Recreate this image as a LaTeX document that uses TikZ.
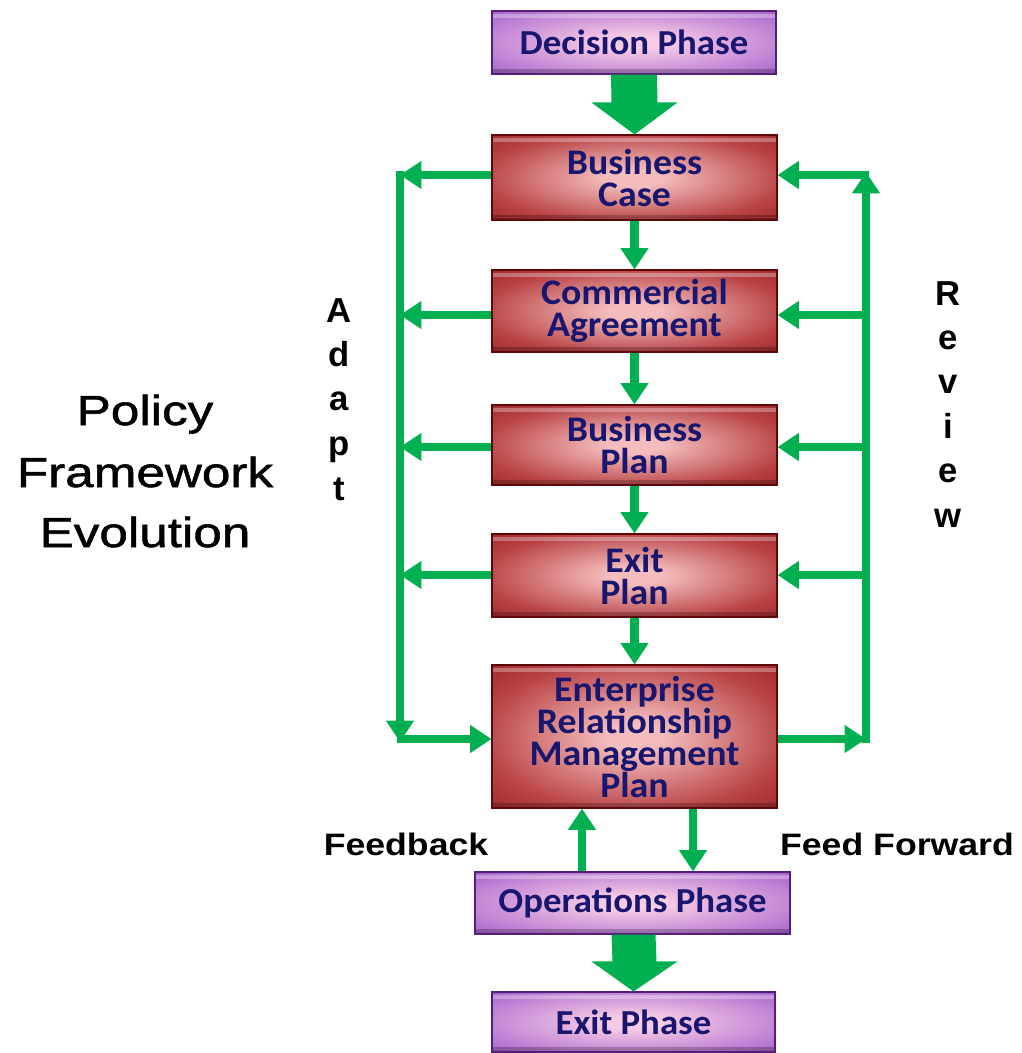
\documentclass[tikz,border=0pt]{standalone}
\usepackage{fontspec}
\usetikzlibrary{arrows.meta,calc}
\newfontfamily\boxfont[FakeStretch=1.05]{Carlito}
\newfontfamily\titlefont[FakeStretch=1.22,FakeBold=1.3]{Liberation Sans}
\newfontfamily\labfont[FakeStretch=1.15]{Liberation Sans}
\newfontfamily\letfont{Liberation Sans}
\definecolor{grn}{RGB}{0,176,80}
\definecolor{navy}{RGB}{24,22,110}
\definecolor{redin}{RGB}{244,188,188}
\definecolor{redmid}{RGB}{184,66,68}
\definecolor{redout}{RGB}{132,16,20}
\definecolor{redline}{RGB}{95,8,10}
\definecolor{purin}{RGB}{248,204,230}
\definecolor{purmid}{RGB}{190,128,212}
\definecolor{purout}{RGB}{132,62,184}
\definecolor{purline}{RGB}{85,30,125}
\pgfdeclareradialshading{redglow}{\pgfpoint{0bp}{0bp}}{color(0bp)=(redin); color(5bp)=(redin); color(27bp)=(redmid); color(46bp)=(redout); color(50bp)=(redout)}
\pgfdeclareradialshading{purglow}{\pgfpoint{0bp}{0bp}}{color(0bp)=(purin); color(5bp)=(purin); color(27bp)=(purmid); color(46bp)=(purout); color(50bp)=(purout)}
\tikzset{
  wh/.style 2 args={minimum width=#1*0.75pt, minimum height=#2*0.75pt},
  bevel/.style={path picture={
    \fill[white,opacity=0.3] ([yshift=-2pt]path picture bounding box.north west) rectangle ([yshift=-5pt]path picture bounding box.north east);
    \fill[black,opacity=0.22] (path picture bounding box.south west) rectangle ([yshift=4pt]path picture bounding box.south east);
  }},
  basebox/.style={rectangle, inner sep=0pt, align=center, text=navy, line width=0.8pt, bevel},
  redbox/.style={basebox, draw=redline, shading=redglow,
    font=\boxfont\bfseries\fontsize{27}{24}\selectfont},
  purbox/.style={basebox, draw=purline, shading=purglow,
    font=\boxfont\bfseries\fontsize{26.3}{24}\selectfont},
  thin/.style={draw=grn, line width=6.5pt, -{Triangle[width=20pt,length=16pt]}},
  big/.style={fill=grn},
  side/.style={anchor=base, font=\letfont\bfseries\fontsize{26}{26}\selectfont},
  lab/.style={anchor=base, font=\labfont\bfseries\fontsize{23.25}{24}\selectfont},
  ttl/.style={anchor=base, font=\titlefont\fontsize{31.5}{32}\selectfont}
}
\begin{document}
\begin{tikzpicture}[x=0.75pt,y=-0.75pt]
\fill[white] (0,0) rectangle (1021,1053);
\useasboundingbox (0,0) rectangle (1021,1053);

% boxes
\node[purbox, wh={284}{63}] (dec) at (634,42.5) {Decision Phase};
\node[redbox, wh={285}{85}] (bc) at (634.5,177.5) {Business\\Case};
\node[redbox, wh={285}{82}] (ca) at (634.5,311) {Commercial\\Agreement};
\node[redbox, wh={285}{80}] (bp) at (634.5,445) {Business\\Plan};
\node[redbox, wh={285}{83}] (ep) at (634.5,575.5) {Exit\\Plan};
\node[redbox, wh={285}{143}] (erm) at (634.5,736.5) {Enterprise\\Relationship\\Management\\Plan};
\node[purbox, wh={315}{62}] (ops) at (632.5,903) {Operations Phase};
\node[purbox, wh={283}{60}] (exit) at (633.5,1022) {Exit Phase};

% big arrows
\fill[big] ($(dec.south)+(-23,0)$) -- ($(dec.south)+(23,0)$) -- ($(bc.north)+(23,-32)$)
  -- ($(bc.north)+(43,-32)$) -- (bc.north) -- ($(bc.north)+(-43,-32)$) -- ($(bc.north)+(-23,-32)$) -- cycle;
\fill[big] ($(ops.south)+(-21,0)$) -- ($(ops.south)+(23,0)$) -- ($(exit.north)+(23,-30)$)
  -- ($(exit.north)+(44,-30)$) -- (exit.north) -- ($(exit.north)+(-42,-30)$) -- ($(exit.north)+(-21,-30)$) -- cycle;

% main chain
\draw[thin] (bc) -- (ca);
\draw[thin] (ca) -- (bp);
\draw[thin] (bp) -- (ep);
\draw[thin] (ep) -- (erm);

% left (Adapt) side
\coordinate (L1) at (400,175);
\coordinate (L2) at (400,315);
\coordinate (L3) at (400,447);
\coordinate (L4) at (400,575);
\coordinate (Ltop) at (400,171);
\coordinate (Lbot) at (400,742);
\coordinate (Lcorner) at (396.75,739);
\draw[thin] (bc.west |- L1) -- (L1);
\draw[thin] (ca.west |- L2) -- (L2);
\draw[thin] (bp.west |- L3) -- (L3);
\draw[thin] (ep.west |- L4) -- (L4);
\draw[thin] (Ltop) -- (Lbot);
\draw[thin] (Lcorner) -- (erm.west |- Lcorner);

% right (Review) side
\coordinate (R2) at (866,315);
\coordinate (R3) at (866,447);
\coordinate (R4) at (866,575);
\coordinate (Rbot) at (866,743);
\coordinate (Rtop) at (866,172);
\coordinate (Rcorner) at (869,175);
\coordinate (Rin) at (866,739);
\draw[thin] (Rbot) -- (Rtop);
\draw[thin] (Rcorner) -- (bc.east |- Rcorner);
\draw[thin] (R2) -- (ca.east |- R2);
\draw[thin] (R3) -- (bp.east |- R3);
\draw[thin] (R4) -- (ep.east |- R4);
\draw[thin] (erm.east |- Rin) -- (Rin);

% feedback / feed forward
\coordinate (FBx) at (582,0);
\coordinate (FFx) at (693,0);
\draw[thin] (ops.north -| FBx) -- (erm.south -| FBx);
\draw[thin] (erm.south -| FFx) -- (ops.north -| FFx);

% labels
\node[lab] (fb) at (406,855) {Feedback};
\node[lab] (ff) at (897,855) {Feed Forward};

\node[ttl] (t1) at (145,425) {Policy};
\node[ttl] (t2) at (145,487) {Framework};
\node[ttl] (t3) at (145,547) {Evolution};

\node[side] (a1) at (339,322) {A};
\node[side] (a2) at (339,366) {d};
\node[side] (a3) at (339,410) {a};
\node[side] (a4) at (339,455) {p};
\node[side] (a5) at (339,500) {t};

\node[side] (r1) at (948,305) {R};
\node[side] (r2) at (948,349) {e};
\node[side] (r3) at (948,393) {v};
\node[side] (r4) at (948,438) {i};
\node[side] (r5) at (948,482) {e};
\node[side] (r6) at (948,527) {w};
\end{tikzpicture}
\end{document}
